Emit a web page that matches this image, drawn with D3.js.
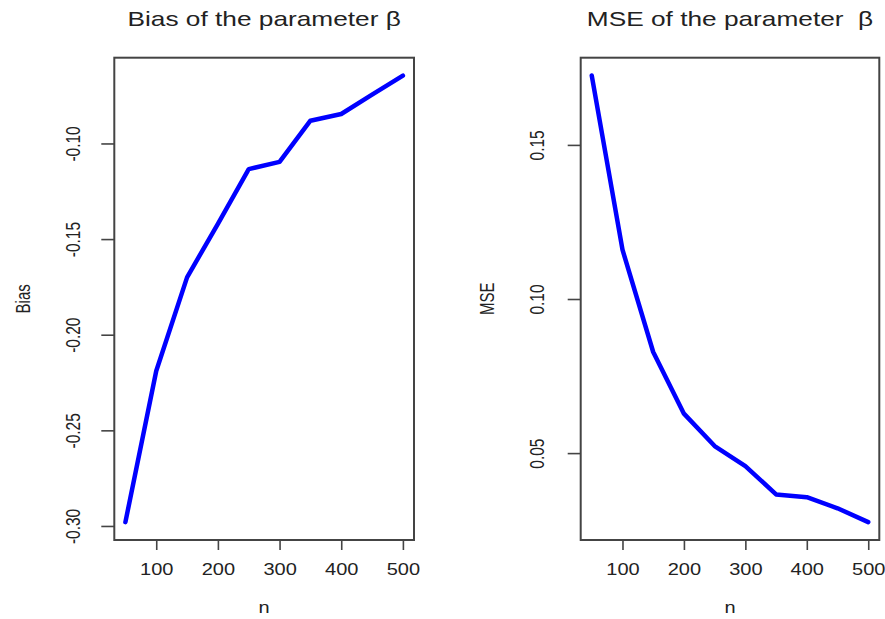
<!DOCTYPE html>
<html>
<head>
<meta charset="utf-8">
<script src="https://cdn.jsdelivr.net/npm/d3@7"></script>
<style>
  html, body { margin: 0; padding: 0; background: #fff; }
  svg { display: block; font-family: "Liberation Sans", Arial, Helvetica, sans-serif; }
</style>
</head>
<body>
<svg id="chart" width="885" height="619"></svg>
<script>
// Sample sizes and the simulated bias / MSE of the estimator of beta
const sampleSizes = [50, 100, 150, 200, 250, 300, 350, 400, 450, 500];
const biasValues  = [-0.298, -0.219, -0.170, -0.142, -0.1134, -0.1096, -0.0881, -0.0846, -0.0745, -0.0645];
const mseValues   = [0.1725, 0.116, 0.0828, 0.0628, 0.0523, 0.0458, 0.0366, 0.0357, 0.0321, 0.0276];

const xTicks     = [100, 200, 300, 400, 500];
const biasTicks  = [-0.30, -0.25, -0.20, -0.15, -0.10];
const mseTicks   = [0.05, 0.10, 0.15];

const svg = d3.select("#chart");
const SX = 1.25;          // horizontal stretch applied to the text glyphs
const textColor = "#222";
const frameColor = "#444";

// R-style axis range: data extent padded by 4% on each side
function padded(values) {
  const [lo, hi] = d3.extent(values);
  const p = (hi - lo) * 0.04;
  return [lo - p, hi + p];
}

function panel(cfg) {
  const { left, right, top, bottom } = cfg.box;
  const x = d3.scaleLinear().domain(padded(sampleSizes)).range([left, right]);
  const y = d3.scaleLinear().domain(padded(cfg.values)).range([bottom, top]);
  const g = svg.append("g");

  // frame
  g.append("rect")
    .attr("x", left).attr("y", top)
    .attr("width", right - left).attr("height", bottom - top)
    .attr("fill", "none").attr("stroke", frameColor).attr("stroke-width", 2);

  // bottom axis
  const xAxis = g.append("g")
    .attr("transform", `translate(0,${bottom})`)
    .call(d3.axisBottom(x).tickValues(xTicks).tickSize(10).tickSizeOuter(0).tickFormat(d3.format("d")));
  xAxis.select(".domain").remove();
  xAxis.selectAll(".tick line").attr("stroke", frameColor).attr("stroke-width", 1.6);
  xAxis.selectAll(".tick text")
    .attr("y", null).attr("dy", null)
    .attr("fill", textColor).attr("font-size", 16)
    .attr("text-anchor", "middle")
    .attr("transform", `translate(0,35) scale(${SX},1)`);

  // left axis
  const yAxis = g.append("g")
    .attr("transform", `translate(${left},0)`)
    .call(d3.axisLeft(y).tickValues(cfg.ticks).tickSize(13).tickSizeOuter(0).tickFormat(d3.format(".2f")));
  yAxis.select(".domain").remove();
  yAxis.selectAll(".tick line").attr("stroke", frameColor).attr("stroke-width", 1.6);
  yAxis.selectAll(".tick text")
    .attr("x", null).attr("dy", null)
    .attr("fill", textColor).attr("font-size", 15.5)
    .attr("text-anchor", "middle")
    .attr("transform", `translate(${cfg.tickLabelX - left},0) scale(${SX},1) rotate(-90)`)
    .text(d => d3.format(".2f")(d).replace("−", "-"));

  // series line
  const line = d3.line().x((d, i) => x(sampleSizes[i])).y(d => y(d));
  g.append("path")
    .datum(cfg.values)
    .attr("d", line)
    .attr("fill", "none")
    .attr("stroke", "#0000ff")
    .attr("stroke-width", 4.5)
    .attr("stroke-linejoin", "round")
    .attr("stroke-linecap", "round");

  // title
  g.append("text")
    .attr("transform", `translate(${(left + right) / 2},26) scale(${SX},1)`)
    .attr("text-anchor", "middle")
    .attr("font-size", 21)
    .attr("fill", textColor)
    .attr("xml:space", "preserve")
    .style("white-space", "pre")
    .text(cfg.title);

  // x label
  g.append("text")
    .attr("transform", `translate(${(left + right) / 2},613) scale(${SX},1)`)
    .attr("text-anchor", "middle")
    .attr("font-size", 16)
    .attr("fill", textColor)
    .text("n");

  // y label
  g.append("text")
    .attr("transform", `translate(${cfg.yLabelX},${(top + bottom) / 2}) scale(1.35,1) rotate(-90)`)
    .attr("text-anchor", "middle")
    .attr("font-size", 15)
    .attr("fill", textColor)
    .text(cfg.yLabel);
}

panel({
  box: { left: 114.3, right: 414, top: 57.7, bottom: 540 },
  values: biasValues,
  ticks: biasTicks,
  title: "Bias of the parameter \u03b2",
  yLabel: "Bias",
  yLabelX: 30,
  tickLabelX: 80
});

panel({
  box: { left: 580.7, right: 879.3, top: 57.7, bottom: 540 },
  values: mseValues,
  ticks: mseTicks,
  title: "MSE of the parameter  \u03b2",
  yLabel: "MSE",
  yLabelX: 494,
  tickLabelX: 544
});
</script>
</body>
</html>
